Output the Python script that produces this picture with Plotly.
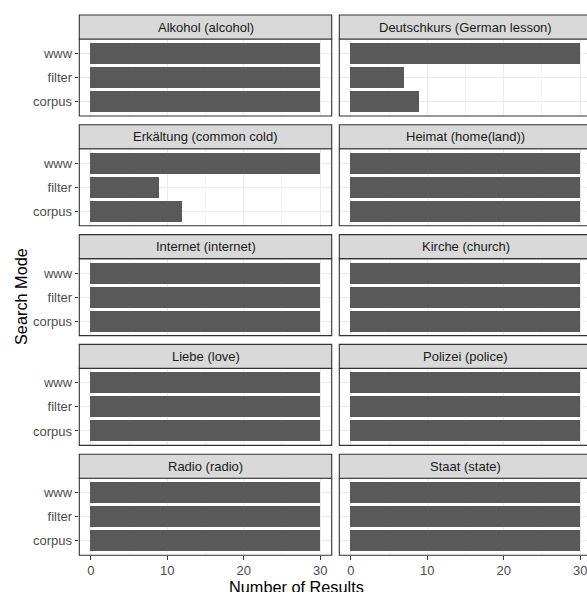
import plotly.graph_objects as go

# ---- data ----
facets = ["Alkohol (alcohol)", "Deutschkurs (German lesson)",
          "Erkältung (common cold)", "Heimat (home(land))",
          "Internet (internet)", "Kirche (church)",
          "Liebe (love)", "Polizei (police)",
          "Radio (radio)", "Staat (state)"]
modes = ["www", "filter", "corpus"]
values = {
    "Alkohol (alcohol)": [30, 30, 30],
    "Deutschkurs (German lesson)": [30, 7, 9],
    "Erkältung (common cold)": [30, 9, 12],
    "Heimat (home(land))": [30, 30, 30],
    "Internet (internet)": [30, 30, 30],
    "Kirche (church)": [30, 30, 30],
    "Liebe (love)": [30, 30, 30],
    "Polizei (police)": [30, 30, 30],
    "Radio (radio)": [30, 30, 30],
    "Staat (state)": [30, 30, 30],
}
x_ticks = [0, 10, 20, 30]
x_minor = [5, 15, 25]

# ---- layout geometry (page pixels) ----
W, H = 587, 592
FONT = "Liberation Sans, Arial, Helvetica, sans-serif"
col_left = [79.3, 339.3]
col_right = [331.7, 591.7]
px_per_unit = (331.7 - 79.3) / 33.0
row_top0, row_step, strip_h, panel_h = 15.0, 109.8, 24.0, 77.0
TICK = 13.0


def fx(p):
    return p / W


def fy(p):
    return 1 - p / H


fig = go.Figure()
shapes = []
annotations = []
layout = {}

for i, name in enumerate(facets):
    r, c = divmod(i, 2)
    k = i + 1
    xa = "x" if k == 1 else f"x{k}"
    ya = "y" if k == 1 else f"y{k}"
    strip_top = row_top0 + r * row_step
    p_top = strip_top + strip_h
    p_bot = p_top + panel_h
    xl = col_left[c]
    xr = min(col_right[c], W)
    xmax = -1.5 + (xr - xl) / px_per_unit

    fig.add_trace(go.Bar(
        x=values[name], y=modes, orientation="h", width=0.9,
        marker=dict(color="#595959", line=dict(width=0)),
        xaxis=xa, yaxis=ya, showlegend=False, hoverinfo="x+y"))

    layout["xaxis" if k == 1 else f"xaxis{k}"] = dict(
        domain=[fx(xl), min(fx(xr), 1.0)], range=[-1.5, xmax], anchor=ya,
        tickvals=x_ticks, ticktext=[str(t) for t in x_ticks],
        showticklabels=(r == 4), ticks="outside" if r == 4 else "",
        ticklabeloverflow="allow",
        ticklen=3.6, tickwidth=1, tickcolor="#333333",
        tickfont=dict(family=FONT, size=TICK, color="#4D4D4D"),
        showgrid=True, gridcolor="#EBEBEB", gridwidth=1,
        minor=dict(tickvals=x_minor, showgrid=True, gridcolor="#F2F2F2",
                   gridwidth=0.6),
        zeroline=False, showline=False, fixedrange=True)
    layout["yaxis" if k == 1 else f"yaxis{k}"] = dict(
        domain=[fy(p_bot), fy(p_top)], anchor=xa,
        type="category", categoryorder="array",
        categoryarray=modes[::-1], range=[-0.6, 2.6],
        showticklabels=(c == 0), ticks="outside" if c == 0 else "",
        ticklen=3.6, tickwidth=1, tickcolor="#333333",
        tickfont=dict(family=FONT, size=TICK, color="#4D4D4D"),
        showgrid=True, gridcolor="#EBEBEB", gridwidth=1,
        zeroline=False, showline=False, fixedrange=True)

    # panel border
    shapes.append(dict(type="rect", xref="paper", yref="paper",
                       x0=fx(xl), x1=fx(col_right[c]), y0=fy(p_bot), y1=fy(p_top),
                       line=dict(color="#333333", width=1.1),
                       fillcolor="rgba(0,0,0,0)", layer="above"))
    # strip
    shapes.append(dict(type="rect", xref="paper", yref="paper",
                       x0=fx(xl), x1=fx(col_right[c]), y0=fy(p_top), y1=fy(strip_top),
                       line=dict(color="#333333", width=1.1),
                       fillcolor="#D9D9D9", layer="above"))
    annotations.append(dict(text=name, xref="paper", yref="paper",
                            x=fx((xl + col_right[c]) / 2), y=fy(strip_top + strip_h / 2),
                            xanchor="center", yanchor="middle", showarrow=False,
                            font=dict(family=FONT, size=TICK, color="#1A1A1A")))

annotations.append(dict(text="Search Mode", xref="paper", yref="paper",
                        x=fx(21), y=fy(297), textangle=-90,
                        xanchor="center", yanchor="middle", showarrow=False,
                        font=dict(family=FONT, size=16.3, color="#000000")))
annotations.append(dict(text="Number of Results", xref="paper", yref="paper",
                        x=fx(297), y=fy(576), xanchor="center", yanchor="top",
                        showarrow=False,
                        font=dict(family=FONT, size=16.3, color="#000000")))

fig.update_layout(
    width=W, height=H, margin=dict(l=0, r=0, t=0, b=0),
    paper_bgcolor="white", plot_bgcolor="white",
    bargap=0, shapes=shapes, annotations=annotations, **layout)

fig.write_html("out.html",
               config={"displayModeBar": False},
               post_script="document.body.style.margin='0px';"
                           "document.body.style.overflow='hidden';")
